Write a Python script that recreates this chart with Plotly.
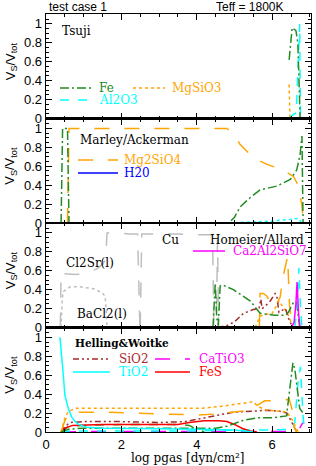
import plotly.graph_objects as go
from plotly.subplots import make_subplots

# ---------------- data ----------------
# Panel 1: Tsuji
tsuji_fe_x = [6.45, 6.53, 6.63, 6.68, 6.72, 6.74]
tsuji_fe_y = [0.62, 0.96, 0.93, 0.80, 0.30, 0.0]
tsuji_al2o3_x = [6.45, 6.55, 6.64, 6.68, 6.73, 6.75]
tsuji_al2o3_y = [0.0, 0.04, 0.06, 0.50, 1.0, 0.0]
tsuji_mgsio3_x = [6.45, 6.46, 6.47, 6.55, 6.60]
tsuji_mgsio3_y = [0.36, 0.15, 0.02, 0.01, 0.0]

# Panel 2: Marley/Ackerman
ma_fe_x = [0.40, 0.42, 0.44, 0.57, 0.59, 0.61, 4.85, 5.0, 5.15, 5.42, 5.68, 6.12, 6.48, 6.65, 6.74, 6.79, 6.82]
ma_fe_y = [0.0, 0.5, 1.0, 1.0, 0.5, 0.0, 0.0, 0.06, 0.17, 0.27, 0.35, 0.39, 0.46, 0.56, 0.72, 0.92, 0.0]
ma_mg2sio4_x = [0.57, 0.59, 0.61, 4.80, 5.00, 5.15, 5.50, 5.86, 6.30, 6.57, 6.70, 6.79, 6.83]
ma_mg2sio4_y = [0.0, 0.5, 1.0, 1.0, 0.93, 0.83, 0.69, 0.62, 0.56, 0.49, 0.39, 0.18, 0.0]
ma_trace_x = [4.85, 5.5, 6.0, 6.5, 6.7, 6.78]
ma_trace_y = [0.0, 0.01, 0.02, 0.04, 0.05, 0.0]
ma_h2o_x = [0.0, 7.03]
ma_h2o_y = [0.0, 0.0]

# Panel 3: Homeier/Allard
ha_cl2sr_x = [0.38, 0.40, 0.45, 0.8, 1.1, 1.35, 1.5, 1.58, 1.62, 1.9, 2.2, 2.43, 2.46, 2.49]
ha_cl2sr_y = [0.0, 0.59, 0.57, 0.56, 0.58, 0.62, 0.67, 0.72, 1.0, 1.0, 0.99, 0.99, 0.5, 0.0]
ha_cu_x = [2.50, 2.54, 3.0, 3.5, 4.0, 4.42, 4.45, 4.52, 4.55, 4.58]
ha_cu_y = [0.0, 0.99, 0.99, 0.99, 0.98, 0.98, 0.02, 0.05, 0.93, 0.0]
ha_bacl2_x = [0.40, 0.43, 0.46, 0.64, 0.90, 1.26, 1.48, 1.57, 1.60, 1.62]
ha_bacl2_y = [0.0, 0.30, 0.38, 0.43, 0.43, 0.41, 0.37, 0.33, 0.15, 0.0]
ha_fe_x = [4.43, 4.49, 4.53, 4.57, 4.62, 4.68, 4.97, 5.20, 5.42, 5.68, 5.86, 6.05, 6.21, 6.35, 6.43, 6.50, 6.57, 6.65, 6.70, 6.73]
ha_fe_y = [0.0, 0.47, 0.10, 0.02, 0.44, 0.45, 0.40, 0.34, 0.28, 0.15, 0.14, 0.13, 0.13, 0.13, 0.16, 0.22, 0.27, 0.26, 0.05, 0.0]
ha_sio2_x = [4.55, 4.8, 5.0, 5.24, 5.5, 5.65, 5.70, 5.73, 5.80, 5.95, 6.08, 6.12, 6.18, 6.25, 6.35, 6.45, 6.55]
ha_sio2_y = [0.0, 0.02, 0.06, 0.15, 0.19, 0.20, 0.30, 0.20, 0.22, 0.28, 0.36, 0.34, 0.16, 0.18, 0.20, 0.08, 0.0]
ha_mg2sio4_x = [5.66, 5.68, 5.77, 5.86, 5.99, 6.08, 6.21, 6.30, 6.41, 6.43, 6.46, 6.50, 6.55, 6.60]
ha_mg2sio4_y = [0.0, 0.36, 0.36, 0.33, 0.24, 0.22, 0.32, 0.56, 0.75, 0.59, 0.24, 0.10, 0.03, 0.0]
ha_mgsio3_x = [5.55, 5.68, 5.85, 6.0, 6.1, 6.18, 6.28, 6.38, 6.48, 6.56]
ha_mgsio3_y = [0.0, 0.12, 0.14, 0.15, 0.22, 0.28, 0.22, 0.17, 0.08, 0.0]
ha_al2o3_x = [6.60, 6.66, 6.71, 6.75, 6.79]
ha_al2o3_y = [0.0, 0.20, 0.63, 0.20, 0.0]
ha_ca2al2sio7_x = [6.50, 6.58, 6.63, 6.66, 6.70, 6.74]
ha_ca2al2sio7_y = [0.0, 0.05, 0.25, 0.48, 0.15, 0.0]
ha_base_x = [0.0, 7.03]
ha_base_y = [0.0, 0.0]

# Panel 4: Helling&Woitke
hw_tio2_x = [0.37, 0.42, 0.46, 0.50, 0.59, 0.68, 0.77, 0.86, 1.08, 1.5, 2.0, 3.0, 4.0, 5.0, 5.5]
hw_tio2_y = [1.0, 0.80, 0.60, 0.39, 0.25, 0.16, 0.11, 0.08, 0.05, 0.04, 0.04, 0.035, 0.03, 0.02, 0.0]
hw_mgsio3_x = [0.40, 0.5, 0.6, 0.8, 1.5, 2.5, 3.5, 4.09, 4.62, 5.15, 5.50, 5.62, 5.86, 6.2, 6.39, 6.55, 6.63, 6.70]
hw_mgsio3_y = [0.0, 0.15, 0.22, 0.25, 0.25, 0.25, 0.25, 0.25, 0.27, 0.30, 0.32, 0.27, 0.23, 0.22, 0.21, 0.12, 0.04, 0.0]
hw_mg2sio4_x = [0.40, 0.5, 0.6, 0.8, 1.5, 2.5, 3.5, 4.0, 4.5, 5.0, 5.4, 5.6, 5.8, 6.0, 6.3, 6.45, 6.52, 6.58, 6.65]
hw_mg2sio4_y = [0.0, 0.12, 0.19, 0.21, 0.21, 0.20, 0.19, 0.18, 0.19, 0.21, 0.23, 0.28, 0.33, 0.33, 0.33, 0.35, 0.25, 0.05, 0.0]
hw_sio2_x = [0.40, 0.5, 0.65, 1.0, 2.0, 3.0, 3.7, 4.2, 4.97, 5.5, 5.86, 6.2, 6.39, 6.5, 6.6, 6.65]
hw_sio2_y = [0.0, 0.06, 0.10, 0.11, 0.11, 0.10, 0.11, 0.15, 0.21, 0.22, 0.23, 0.22, 0.20, 0.12, 0.03, 0.0]
hw_fes_x = [0.40, 0.5, 0.7, 1.5, 2.5, 3.5, 3.8, 4.2, 4.6, 4.8, 5.0, 5.2, 5.4, 5.6]
hw_fes_y = [0.0, 0.04, 0.07, 0.08, 0.08, 0.08, 0.10, 0.12, 0.12, 0.11, 0.08, 0.04, 0.01, 0.0]
hw_fe_x = [0.40, 0.6, 1.0, 2.0, 3.0, 4.0, 4.5, 4.8, 5.0, 5.2, 5.6, 6.0, 6.38, 6.48, 6.55, 6.60, 6.66, 6.73, 6.82]
hw_fe_y = [0.0, 0.03, 0.04, 0.04, 0.04, 0.04, 0.04, 0.06, 0.09, 0.12, 0.15, 0.15, 0.17, 0.49, 0.73, 0.67, 0.46, 0.25, 0.20]
hw_fe2_x = [0.40, 0.6, 1.0, 2.0, 3.0, 3.5, 3.8, 4.0, 4.2]
hw_fe2_y = [0.0, 0.06, 0.07, 0.08, 0.08, 0.08, 0.07, 0.03, 0.0]
hw_al2o3_x = [0.40, 0.6, 2.0, 4.0, 5.0, 6.0, 6.5, 6.6, 6.68, 6.75, 6.80, 6.85]
hw_al2o3_y = [0.0, 0.01, 0.01, 0.01, 0.02, 0.02, 0.03, 0.10, 0.50, 0.69, 0.30, 0.0]
hw_catio3_x = [0.40, 1.0, 3.0, 5.0, 6.5, 6.7, 6.8, 6.85]
hw_catio3_y = [0.0, 0.005, 0.005, 0.005, 0.005, 0.02, 0.09, 0.10]

x_ticks = [0, 2, 4, 6]
y_ticks = [0, 0.2, 0.4, 0.6, 0.8, 1]
y_tick_labels = ["0", "0.2", "0.4", "0.6", "0.8", "1"]

# ---------------- styles ----------------
GREEN = "#228B22"
ORANGE = "#FFA500"
CYAN = "#00FFFF"
MAGENTA = "#FF00FF"
BROWN = "#A52A2A"
RED = "#FF0000"
BLUE = "#0000FF"
GRAY = "#BEBEBE"
DDOT = "6px,3px,2px,3px,2px,3px"
DASHDOT = "9px,3px,2px,3px"
SERIF = "DejaVu Serif"
SANS = "Liberation Sans"

W, H = 316, 466
L_M, R_M, T_M, B_M = 46, 5, 14, 34
PW = W - L_M - R_M
PH = H - T_M - B_M
ROWH = PH / 4.0

fig = make_subplots(rows=4, cols=1, shared_xaxes=True, vertical_spacing=0)


def add(row, x, y, color, dash="solid", width=1.5):
    fig.add_trace(go.Scatter(x=x, y=y, mode="lines",
                             line=dict(color=color, dash=dash, width=width),
                             showlegend=False, hoverinfo="skip"), row=row, col=1)


# panel 1
add(1, tsuji_mgsio3_x, tsuji_mgsio3_y, ORANGE, "dot")
add(1, tsuji_al2o3_x, tsuji_al2o3_y, CYAN, "dash")
add(1, tsuji_fe_x, tsuji_fe_y, GREEN, DASHDOT)
# panel 2
add(2, ma_h2o_x, ma_h2o_y, "#1010A0", "solid")
add(2, ma_trace_x, ma_trace_y, CYAN, "dot")
add(2, ma_mg2sio4_x, ma_mg2sio4_y, ORANGE, "longdash")
add(2, ma_fe_x, ma_fe_y, GREEN, DASHDOT)
# panel 3
add(3, ha_bacl2_x, ha_bacl2_y, GRAY, "dot")
add(3, ha_cl2sr_x, ha_cl2sr_y, GRAY, "longdash")
add(3, ha_cu_x, ha_cu_y, GRAY, "longdash")
add(3, ha_mgsio3_x, ha_mgsio3_y, ORANGE, "dot")
add(3, ha_sio2_x, ha_sio2_y, BROWN, DDOT)
add(3, ha_mg2sio4_x, ha_mg2sio4_y, ORANGE, "longdash")
add(3, ha_fe_x, ha_fe_y, GREEN, DASHDOT)
add(3, ha_al2o3_x, ha_al2o3_y, CYAN, "dash")
add(3, ha_ca2al2sio7_x, ha_ca2al2sio7_y, MAGENTA, "solid")
add(3, ha_base_x, ha_base_y, "#6b1650", "solid")
# panel 4
add(4, hw_catio3_x, hw_catio3_y, MAGENTA, "longdash")
add(4, hw_al2o3_x, hw_al2o3_y, CYAN, "dash")
add(4, hw_fe2_x, hw_fe2_y, GREEN, "dash")
add(4, hw_fes_x, hw_fes_y, RED, "solid")
add(4, hw_sio2_x, hw_sio2_y, BROWN, DDOT)
add(4, hw_mg2sio4_x, hw_mg2sio4_y, ORANGE, "longdash")
add(4, hw_mgsio3_x, hw_mgsio3_y, ORANGE, "dot")
add(4, hw_fe_x, hw_fe_y, GREEN, DASHDOT)
add(4, hw_tio2_x, hw_tio2_y, CYAN, "solid")

for r in range(1, 5):
    fig.update_xaxes(row=r, col=1, range=[0, 7.03], tickvals=x_ticks, automargin=False,
                     ticks="inside", ticklen=6, tickwidth=1, tickcolor="black",
                     minor=dict(dtick=0.5, tick0=0, ticks="inside", ticklen=3, tickcolor="black"),
                     showline=True, linecolor="black", linewidth=1.3, mirror="allticks",
                     showgrid=False, zeroline=False, showticklabels=(r == 4),
                     tickfont=dict(family=SANS, size=13, color="black"))
    fig.update_yaxes(row=r, col=1, range=[0, 1.105], tickvals=y_ticks, ticktext=y_tick_labels,
                     automargin=False,
                     ticks="inside", ticklen=6, tickwidth=1, tickcolor="black",
                     minor=dict(dtick=0.05, tick0=0, ticks="inside", ticklen=3, tickcolor="black"),
                     showline=True, linecolor="black", linewidth=1.3, mirror="allticks",
                     showgrid=False, zeroline=False,
                     tickfont=dict(family=SANS, size=13, color="black"))


def ppos(px, py):
    return (px - L_M) / PW, (H - B_M - py) / PH


def txt(px, py, text, color="black", size=12, xanchor="left", family=SERIF, angle=0):
    x, y = ppos(px, py)
    fig.add_annotation(xref="paper", yref="paper", x=x, y=y, text=text, showarrow=False,
                       xanchor=xanchor, yanchor="middle", textangle=angle,
                       font=dict(family=family, size=size, color=color))


def S(px0, px1, py, color, dash, width=1.5):
    x0, y = ppos(px0, py)
    x1, _ = ppos(px1, py)
    fig.add_shape(type="line", xref="paper", yref="paper", x0=x0, x1=x1, y0=y, y1=y,
                  line=dict(color=color, dash=dash, width=width))


# titles
txt(47, 7, "test case 1", size=12, family=SANS)
txt(286, 7, "Teff = 1800K", size=12, family=SANS, xanchor="right")
txt(188, 458, "log pgas [dyn/cm²]", size=12, xanchor="center")
for r in range(4):
    cy = T_M + ROWH * r + ROWH / 2 - 5
    txt(11, cy, "V<sub>S</sub>/V<sub>tot</sub>", size=13, family=SANS, xanchor="center", angle=-90)

# panel labels / legends
txt(60, 31, "Tsuji")
S(60, 91, 88, GREEN, DASHDOT); txt(97, 88, "Fe", GREEN)
S(133, 165, 88, ORANGE, "dot"); txt(170, 88, "MgSiO3", ORANGE)
S(60, 91, 100, CYAN, "dash"); txt(97, 100, "Al2O3", CYAN)

txt(78, 140, "Marley/Ackerman")
S(78, 118, 160, ORANGE, "longdash"); txt(122, 160, "Mg2SiO4", ORANGE)
S(78, 118, 173, BLUE, "solid"); txt(122, 173, "H20", BLUE)

txt(306, 240, "Homeier/Allard", xanchor="right")
S(193, 225, 251, MAGENTA, "solid"); txt(231, 251, "Ca2Al2SiO7", MAGENTA)
txt(64, 263, "Cl2Sr(l)")
txt(75, 314, "BaCl2(l)")
txt(160, 240, "Cu")

txt(73, 343, "<b>Helling&Woitke</b>", size=10.5)
S(73, 110, 359, BROWN, DDOT); txt(117, 359, "SiO2", BROWN)
S(155, 190, 359, MAGENTA, "longdash"); txt(197, 359, "CaTiO3", MAGENTA)
S(73, 110, 372, CYAN, "solid"); txt(117, 372, "TiO2", CYAN)
S(155, 190, 372, RED, "solid"); txt(197, 372, "FeS", RED)

fig.update_layout(width=W, height=H, margin=dict(l=L_M, r=R_M, t=T_M, b=B_M),
                  paper_bgcolor="white", plot_bgcolor="white", showlegend=False)

fig.write_html("out.html", config={"displayModeBar": False, "staticPlot": True},
               post_script="document.body.style.margin='0';document.body.style.overflow='hidden';")
